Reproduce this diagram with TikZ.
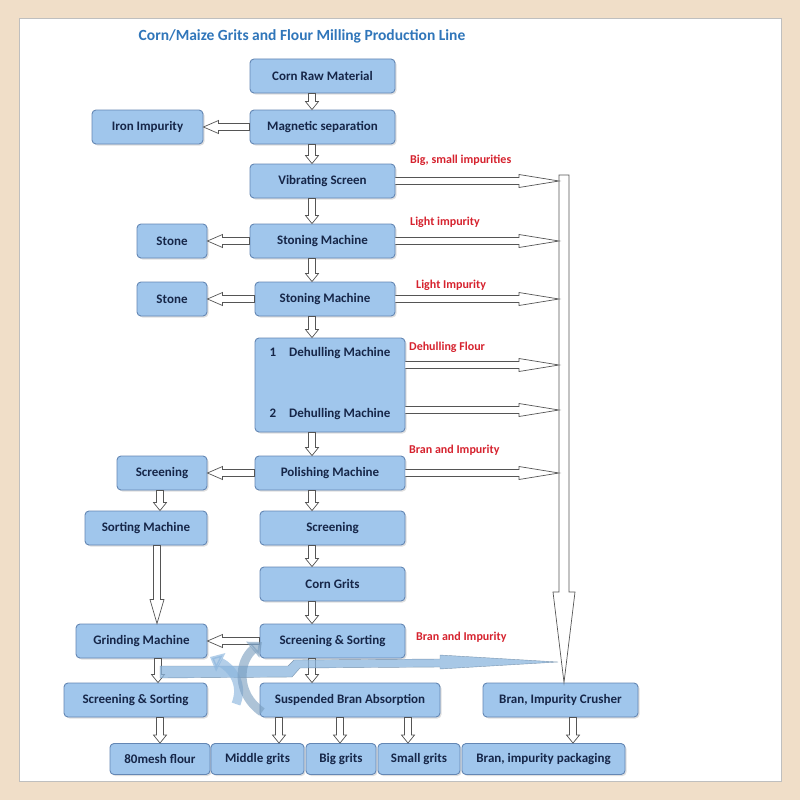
\documentclass[tikz,border=0pt]{standalone}
\usepackage{fontspec}
\setmainfont{Carlito}
\usetikzlibrary{calc,arrows.meta,shadows}
\definecolor{boxfill}{RGB}{160,198,236}
\definecolor{boxline}{RGB}{100,135,180}
\definecolor{boxtext}{RGB}{22,38,72}
\definecolor{titleblue}{RGB}{48,118,186}
\definecolor{labred}{RGB}{214,34,46}
\definecolor{framec}{RGB}{240,222,200}
\definecolor{arrline}{RGB}{85,85,85}
\definecolor{bluarr}{RGB}{140,182,222}
\tikzset{
  box/.style={draw=boxline, fill=boxfill, rounded corners=4pt, line width=0.9pt,
    minimum height=34pt, text=boxtext, font=\bfseries\fontsize{13}{15}\selectfont, inner sep=0pt,
    drop shadow={shadow xshift=1.5pt, shadow yshift=-1.5pt, opacity=0.25}},
  lowbox/.style={box, minimum height=31pt},
  lab/.style={text=labred, font=\bfseries\fontsize{12}{14}\selectfont, anchor=west, inner sep=0pt},
  btxt/.style={text=boxtext, font=\bfseries\fontsize{13}{15}\selectfont, inner sep=0pt},
  harrow/.style={draw=arrline, fill=white, line width=0.7pt, line join=miter},
  bluarrow/.style={fill=bluarr, draw=bluarr!70!black, line width=0.4pt, opacity=0.75},
}
% down arrow: #1 x (px), #2 from node, #3 to node
\newcommand\dnarr[3]{%
  \draw[harrow] let \p1=(#2.south), \p2=(#3.north), \p3=(#1,0) in
    (\x3-3.5pt,\y1) -- (\x3-3.5pt,\y2+8pt) -- (\x3-6.5pt,\y2+8pt) -- (\x3,\y2)
    -- (\x3+6.5pt,\y2+8pt) -- (\x3+3.5pt,\y2+8pt) -- (\x3+3.5pt,\y1) -- cycle;}
% long down arrow with longer head
\newcommand\dnarrlong[3]{%
  \draw[harrow] let \p1=(#2.south), \p2=(#3.north), \p3=(#1,0) in
    (\x3-3.5pt,\y1) -- (\x3-3.5pt,\y2+24pt) -- (\x3-7pt,\y2+24pt) -- (\x3,\y2)
    -- (\x3+7pt,\y2+24pt) -- (\x3+3.5pt,\y2+24pt) -- (\x3+3.5pt,\y1) -- cycle;}
% left arrow: #1 y (px), #2 from node, #3 to node
\newcommand\lfarr[3]{%
  \draw[harrow] let \p1=(#2.west), \p2=(#3.east), \p3=(0,#1) in
    (\x1,\y3+3.5pt) -- (\x2+15pt,\y3+3.5pt) -- (\x2+15pt,\y3+6.5pt) -- (\x2,\y3)
    -- (\x2+15pt,\y3-6.5pt) -- (\x2+15pt,\y3-3.5pt) -- (\x1,\y3-3.5pt) -- cycle;}
% right arrow to collector bar: #1 from node, #2 coordinate on bar
\newcommand\rtarr[2]{%
  \draw[harrow] let \p1=(#1.east), \p2=(#2) in
    (\x1,\y2+3.5pt) -- (\x2-40pt,\y2+3.5pt) -- (\x2-40pt,\y2+6.5pt) -- (\x2,\y2)
    -- (\x2-40pt,\y2-6.5pt) -- (\x2-40pt,\y2-3.5pt) -- (\x1,\y2-3.5pt);}
\begin{document}
\begin{tikzpicture}[x=1pt,y=-1pt]
\useasboundingbox (0,0) rectangle (800,800);
\fill[framec] (0,0) rectangle (800,800);
\draw[fill=white, draw=black!25, line width=1pt] (19,19) rectangle (781,781);

\node[text=titleblue, font=\bfseries\fontsize{15.5}{18}\selectfont, inner sep=0pt] (title) at (302,36) {Corn/Maize Grits and Flour Milling Production Line};

% main column
\node[box, minimum width=145pt] (raw) at (322.5,76) {Corn Raw Material};
\node[box, minimum width=145pt] (mag) at (322.5,127) {Magnetic separation};
\node[box, minimum width=111pt] (iron) at (147.5,127) {Iron Impurity};
\node[box, minimum width=145pt] (vib) at (322.5,181) {Vibrating Screen};
\node[box, minimum width=145pt] (ston1) at (322.5,241) {Stoning Machine};
\node[box, minimum width=70pt] (stone1) at (172,241) {Stone};
\node[box, minimum width=140pt] (ston2) at (325,299) {Stoning Machine};
\node[box, minimum width=70pt] (stone2) at (172,299) {Stone};
\node[box, minimum width=150pt, minimum height=94pt] (dehull) at (330,385) {};
\node[btxt] (dh1) at (330,353) {1\quad Dehulling Machine};
\node[btxt] (dh2) at (330,414) {2\quad Dehulling Machine};
\node[box, minimum width=150pt] (pol) at (330,473) {Polishing Machine};
\node[box, minimum width=90pt] (scrL) at (162,473) {Screening};
\node[box, minimum width=122pt] (sortM) at (146,528) {Sorting Machine};
\node[box, minimum width=145pt] (scrC) at (332.5,528) {Screening};
\node[box, minimum width=145pt] (grits) at (332.5,584) {Corn Grits};
\node[box, minimum width=145pt] (ssC) at (332.5,641) {Screening \& Sorting};
\node[box, minimum width=131pt] (grind) at (141.5,641) {Grinding Machine};
\node[box, minimum width=143pt] (ssL) at (135.5,700) {Screening \& Sorting};
\node[box, minimum width=180pt] (susp) at (350,700) {Suspended Bran Absorption};
\node[box, minimum width=155pt] (crush) at (560.5,700) {Bran, Impurity Crusher};
% bottom row
\node[lowbox, minimum width=100pt] (mesh) at (160,759) {80mesh flour};
\node[lowbox, minimum width=93pt] (mid) at (257.5,759) {Middle grits};
\node[lowbox, minimum width=70pt] (big) at (341,759) {Big grits};
\node[lowbox, minimum width=82pt] (small) at (419,759) {Small grits};
\node[lowbox, minimum width=163pt] (pack) at (543.5,759) {Bran, impurity packaging};

% red labels
\node[lab] (l1) at (410,160) {Big, small impurities};
\node[lab] (l2) at (410,222) {Light impurity};
\node[lab] (l3) at (416,285) {Light Impurity};
\node[lab] (l4) at (409,347) {Dehulling Flour};
\node[lab] (l5) at (409,450) {Bran and Impurity};
\node[lab] (l6) at (416,637) {Bran and Impurity};

% down arrows centre
\dnarr{312}{raw}{mag}
\dnarr{312}{mag}{vib}
\dnarr{312}{vib}{ston1}
\dnarr{312}{ston1}{ston2}
\dnarr{312}{ston2}{dehull}
\dnarr{312}{dehull}{pol}
\dnarr{312}{pol}{scrC}
\dnarr{312}{scrC}{grits}
\dnarr{312}{grits}{ssC}
\dnarr{312}{ssC}{susp}
% left column
\dnarr{160}{scrL}{sortM}
\dnarrlong{157}{sortM}{grind}
\dnarr{158}{grind}{ssL}
\dnarr{160}{ssL}{mesh}
% bottom
\dnarr{279}{susp}{mid}
\dnarr{340}{susp}{big}
\dnarr{408}{susp}{small}
\dnarr{573}{crush}{pack}
% left arrows
\lfarr{127}{mag}{iron}
\lfarr{241}{ston1}{stone1}
\lfarr{299}{ston2}{stone2}
\lfarr{473}{pol}{scrL}
\lfarr{641}{ssC}{grind}

% collector bar
\coordinate (b1) at (559,181);
\coordinate (b2) at (559,241);
\coordinate (b3) at (559,299);
\coordinate (b4) at (559,365);
\coordinate (b5) at (559,410);
\coordinate (b6) at (559,473);
\draw[harrow] let \p1=(crush.north), \p2=(564,0) in
  (559,175) -- (569,175) -- (569,592) -- (575,592) -- (\x2,\y1) -- (553,592) -- (559,592) -- cycle;
\rtarr{vib}{b1}
\rtarr{ston1}{b2}
\rtarr{ston2}{b3}
\rtarr{dehull}{b4}
\rtarr{dehull}{b5}
\rtarr{pol}{b6}

% translucent blue arrows
\fill[bluarrow] (160,666) -- (288,666) -- (294,660) -- (440,659) -- (440,655) -- (558,662)
  -- (440,669) -- (440,667) -- (300,668) -- (292,677) -- (160,678) -- cycle;
\draw[bluarr, opacity=0.65, line width=9pt, -{Triangle[length=12pt,width=20pt]}]
  (236,704) .. controls (244,684) and (232,668) .. (210,657);
\draw[bluarr!85!black, opacity=0.6, line width=9pt, -{Triangle[length=12pt,width=20pt]}]
  (262,712) .. controls (236,694) and (238,662) .. (262,642);
\end{tikzpicture}
\end{document}
